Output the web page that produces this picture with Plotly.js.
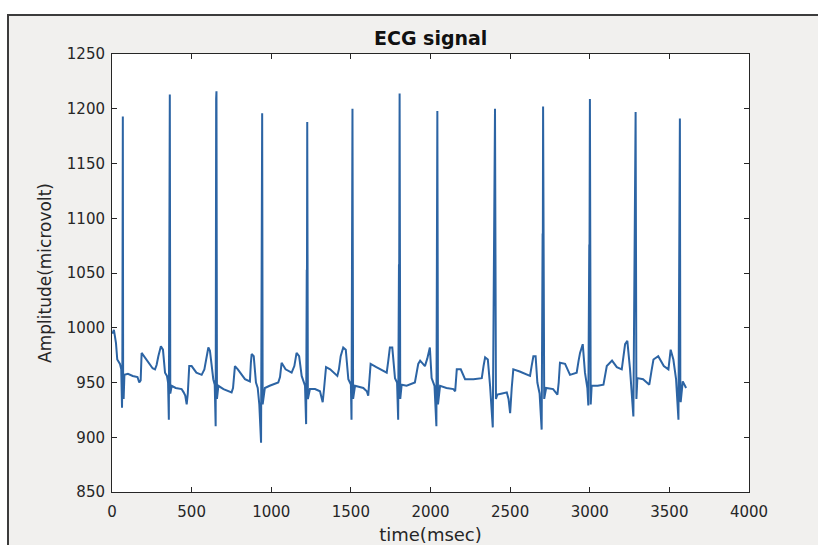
<!DOCTYPE html>
<html>
<head>
<meta charset="utf-8">
<script src="https://cdn.plot.ly/plotly-3.0.1.min.js"></script>
<style>
  html, body { margin: 0; padding: 0; background: #ffffff; }
  #frame { position: absolute; left: 7px; top: 14px; width: 811px; height: 531px;
           background: #f1f0ee; border-top: 2px solid #3c3c3c; border-left: 2px solid #3c3c3c; box-sizing: border-box; }
  #chart { position: absolute; left: 0; top: 0; width: 818px; height: 545px; }
</style>
</head>
<body>
<div id="frame"></div>
<div id="chart"></div>
<script>
// ECG trace: time (ms) and amplitude (microvolt)
const timeMs = [
  0,4,12,20,25,33,50,58,
  63,65,66,67,68,70,73,78,
  100,130,160,171,180,186,200,230,255,270,280,291,307,320,333,345,352,
  357,360,361,363,366,375,400,437,450,460,469,476,485,500,530,563,580,594,605,615,630,636,645,
  651,654,655,656,659,668,700,751,760,772,790,835,866,872,877,890,904,915,925,936,
  940,941,943,946,960,990,1044,1055,1065,1090,1128,1145,1159,1175,1191,1212,1219,
  1223,1224,1226,1230,1243,1275,1306,1316,1323,1332,1344,1370,1415,1425,1436,1452,1468,1484,1500,1504,
  1507,1508,1510,1514,1526,1578,1600,1609,1616,1624,1660,1725,1735,1745,1760,1777,1790,1797,
  1802,1803,1806,1810,1819,1850,1902,1915,1923,1935,1965,1980,1986,1996,2007,2025,2037,
  2041,2042,2043,2047,2060,2100,2144,2155,2165,2190,2217,2270,2322,2333,2343,2360,2374,2391,
  2402,2403,2405,2411,2420,2450,2479,2490,2500,2510,2520,2560,2625,2635,2646,2660,2671,2685,2698,
  2704,2705,2707,2714,2726,2770,2797,2805,2813,2845,2876,2918,2930,2939,2956,2970,2985,2991,
  2997,2998,3001,3006,3012,3050,3086,3095,3107,3140,3170,3201,3212,3222,3236,3253,3274,
  3284,3285,3288,3293,3299,3335,3374,3387,3400,3430,3465,3494,3500,3508,3525,3542,3557,
  3562,3563,3566,3569,3571,3584,3595,3605
];
const amplitude = [
  996,995,998,992,986,971,967,962,
  927,960,1037,1000,1193,940,935,957,
  958,956,955,950,952,977,974,968,963,962,966,974,983,980,959,956,950,
  916,1151,1100,1213,940,947,945,944,941,938,930,940,965,965,959,957,962,973,982,979,960,953,948,
  910,1209,1150,1216,935,947,944,941,945,965,962,953,951,968,976,974,950,945,930,895,
  1160,1100,1196,930,945,947,950,955,968,962,959,965,977,974,956,947,912,
  1053,1020,1188,935,944,944,942,935,932,945,964,962,956,962,974,982,980,953,948,916,
  1012,990,1200,935,947,945,942,938,950,967,964,959,970,982,982,954,950,916,
  1058,1020,1214,935,948,947,950,960,967,970,965,972,977,982,954,947,910,
  1197,1100,1198,930,947,945,944,942,962,962,953,953,954,965,973,971,947,909,
  1156,1100,1200,935,939,940,941,935,922,945,962,960,956,965,974,974,950,940,907,
  1086,1040,1202,935,945,944,939,950,968,967,957,959,970,977,985,959,945,929,
  1076,1040,1209,930,947,947,948,955,965,970,964,962,972,985,988,962,919,
  1104,1060,1197,935,954,953,948,960,971,974,965,962,970,980,971,953,916,
  1076,1030,1191,935,932,951,948,945
];
const xTicks = [0,500,1000,1500,2000,2500,3000,3500,4000];
const yTicks = [850,900,950,1000,1050,1100,1150,1200,1250];
const chartTitle = 'ECG signal';
const xLabel = 'time(msec)';
const yLabel = 'Amplitude(microvolt)';

const axisColor = '#262626';
const fontFam = 'DejaVu Sans, Arial, sans-serif';

const trace = {
  x: timeMs, y: amplitude, type: 'scatter', mode: 'lines',
  line: { color: '#2c64a4', width: 2 }, hoverinfo: 'skip'
};

const layout = {
  width: 818, height: 545,
  margin: { l: 112, r: 69, t: 54, b: 53, pad: 0 },
  paper_bgcolor: 'rgba(0,0,0,0)',
  plot_bgcolor: '#ffffff',
  showlegend: false,
  title: { text: chartTitle, font: { family: fontFam, size: 19, color: '#111', weight: 'bold' },
           x: 0.5265, xref: 'container', xanchor: 'center', y: 1 - 38/545, yref: 'container', yanchor: 'middle' },
  xaxis: {
    range: [0, 4000], tickvals: xTicks, ticktext: xTicks.map(String),
    showgrid: false, zeroline: false, showline: true, linecolor: axisColor, linewidth: 1,
    mirror: 'allticks', ticks: 'inside', ticklen: 5, tickcolor: axisColor,
    tickfont: { family: fontFam, size: 15, color: axisColor }, ticklabelstandoff: 6,
    title: { text: xLabel, font: { family: fontFam, size: 18, color: axisColor }, standoff: 9 }
  },
  yaxis: {
    range: [850, 1250], tickvals: yTicks, ticktext: yTicks.map(String),
    showgrid: false, zeroline: false, showline: true, linecolor: axisColor, linewidth: 1,
    mirror: 'allticks', ticks: 'inside', ticklen: 5, tickcolor: axisColor,
    tickfont: { family: fontFam, size: 15, color: axisColor }, ticklabelstandoff: 3,
    title: { text: yLabel, font: { family: fontFam, size: 17, color: axisColor }, standoff: 10 }
  }
};

Plotly.newPlot('chart', [trace], layout, { staticPlot: true, displayModeBar: false });
</script>
</body>
</html>
